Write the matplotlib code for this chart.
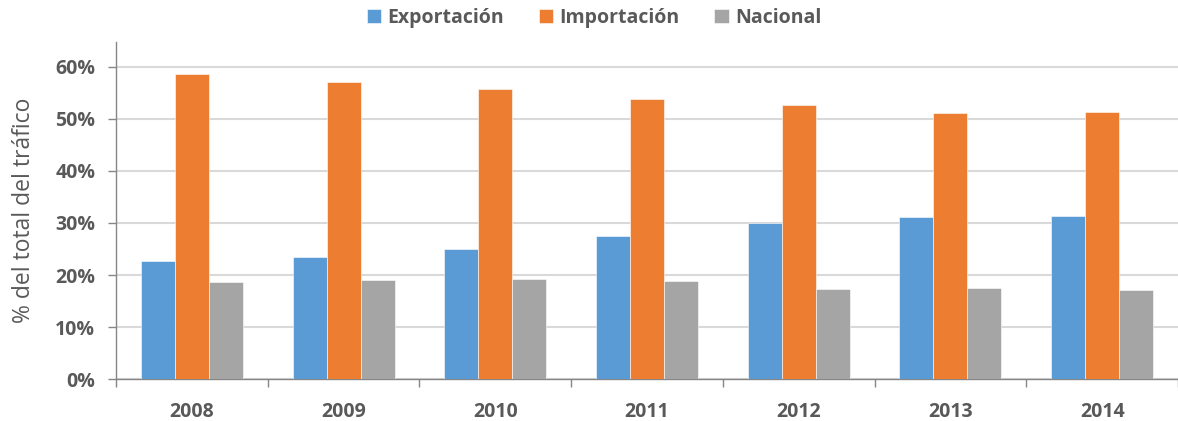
import numpy as np
import matplotlib.pyplot as plt
from matplotlib.ticker import PercentFormatter, FixedLocator

# Values (share of total traffic)
years = ['2008', '2009', '2010', '2011', '2012', '2013', '2014']
exportacion = [0.227, 0.235, 0.249, 0.274, 0.299, 0.312, 0.313]
importacion = [0.586, 0.571, 0.557, 0.537, 0.526, 0.511, 0.512]
nacional = [0.186, 0.191, 0.192, 0.188, 0.174, 0.176, 0.172]

series = [('Exportación', exportacion, '#5b9bd5'),
          ('Importación', importacion, '#ed7d31'),
          ('Nacional', nacional, '#a5a5a5')]

plt.rcParams['font.family'] = ['Open Sans', 'DejaVu Sans']
text_col = '#595959'

fig = plt.figure(figsize=(11.78, 4.21), dpi=100)
ax = fig.add_axes([116 / 1178, 1 - 379.3 / 421, 1 - 116 / 1178, (379.3 - 42) / 421])

x = np.arange(len(years))
w = 0.224
for i, (name, vals, col) in enumerate(series):
    ax.bar(x + (i - 1) * w, vals, w, color=col, label=name,
           edgecolor='white', linewidth=0.4, zorder=3)

ax.set_xlim(-0.5, len(years) - 0.5)
ax.set_ylim(0, 0.647)
ax.set_yticks(np.arange(0, 0.61, 0.1))
ax.yaxis.set_major_formatter(PercentFormatter(1.0, decimals=0))
ax.grid(axis='y', color='#d9d9d9', linewidth=1.5, zorder=0)

ax.set_xticks(x)
ax.set_xticklabels(years)
ax.xaxis.set_minor_locator(FixedLocator(np.arange(-0.5, len(years), 1.0)))
ax.tick_params(axis='x', which='major', length=0, pad=16)
ax.tick_params(axis='x', which='minor', length=6, color='#868686', width=1)
ax.tick_params(axis='y', length=6, color='#868686', width=1, pad=9)

for lab in ax.get_xticklabels() + ax.get_yticklabels():
    lab.set_fontsize(14)
    lab.set_fontweight('bold')
    lab.set_color(text_col)

for s in ['top', 'right']:
    ax.spines[s].set_visible(False)
for s in ['left', 'bottom']:
    ax.spines[s].set_color('#868686')
    ax.spines[s].set_linewidth(1)

ax.set_ylabel('% del total del tráfico', fontsize=16.5, color=text_col, labelpad=14)

leg = fig.legend(loc='center', bbox_to_anchor=(594 / 1178, 1 - 18 / 421), ncol=3,
                 frameon=False, handlelength=0.75, handleheight=0.75,
                 handletextpad=0.3, columnspacing=1.8,
                 prop={'size': 14, 'weight': 'bold'})
for t in leg.get_texts():
    t.set_color(text_col)

fig.savefig('out.png', dpi=100)
